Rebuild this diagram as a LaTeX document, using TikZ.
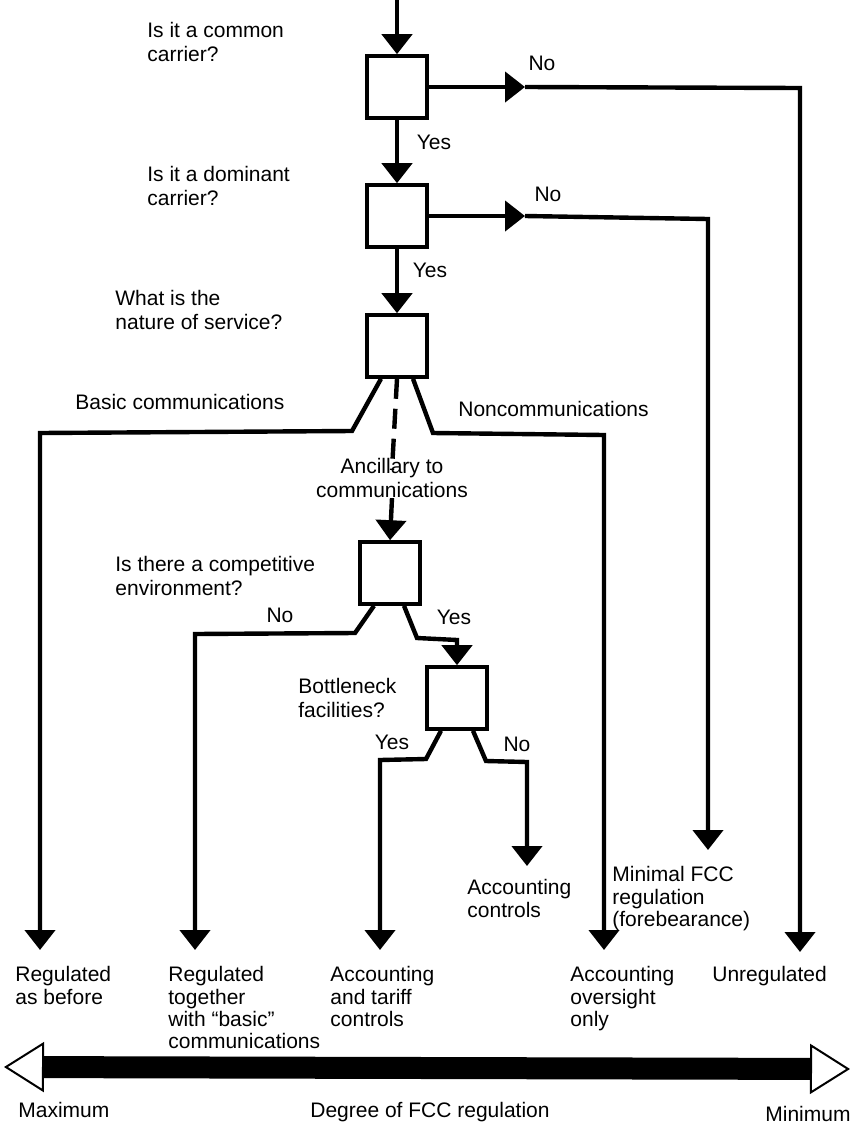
\documentclass[tikz,border=0pt]{standalone}
\usepackage{fontspec}
\setmainfont{Liberation Sans}
\usetikzlibrary{arrows.meta}

\begin{document}
\begin{tikzpicture}[x=0.5pt, y=-0.5pt,
    every node/.style = {font=\fontsize{10.5}{12}\selectfont},
    qbox/.style    = {draw, line width=1.8pt, minimum width=30pt,
                      minimum height=31pt, inner sep=0pt},
    wire/.style    = {line width=2.2pt, line join=miter},
    flow/.style    = {wire, -{Triangle[width=15pt,length=10pt]}},
    ask/.style     = {align=left, inner sep=0pt, anchor=west},
    verdict/.style = {align=left, inner sep=0pt, anchor=north west,
                      font=\fontsize{10.5}{11.2}\selectfont},
    tag/.style     = {inner sep=0pt},
    band/.style    = {line width=11pt,
      {Triangle[width=25pt,length=20pt,fill=white,line width=1pt]}-{Triangle[width=25pt,length=20pt,fill=white,line width=1pt]}},
  ]
  \useasboundingbox (0,0) rectangle (854,1130);

  % decision boxes
  \node[qbox] (common)   at (397,87)  {};
  \node[qbox] (dominant) at (397,216) {};
  \node[qbox] (nature)   at (397,346) {};
  \node[qbox] (compet)   at (390,573) {};
  \node[qbox] (bottle)   at (457,698) {};

  \node[ask] (askcommon)   at (147,42)  {Is it a common\\carrier?};
  \node[ask] (askdominant) at (147,186) {Is it a dominant\\carrier?};
  \node[ask] (asknature)   at (115,310) {What is the\\nature of service?};
  \node[ask] (askcompet)   at (115,576) {Is there a competitive\\environment?};
  \node[ask] (askbottle)   at (298,698) {Bottleneck\\facilities?};

  \node[tag] (yes1) at (434,142) {Yes};
  \node[tag] (no1)  at (542,63)  {No};
  \node[tag] (yes2) at (430,270) {Yes};
  \node[tag] (no2)  at (548,194) {No};
  \node[ask] (basic)   at (75,402)  {Basic communications};
  \node[ask] (noncomm) at (458,409) {Noncommunications};
  \node[tag, align=center] (ancil) at (392,478) {Ancillary to\\communications};
  \node[tag] (no3)  at (280,615) {No};
  \node[tag] (yes3) at (454,617) {Yes};
  \node[tag] (yes4) at (392,742) {Yes};
  \node[tag] (no4)  at (517,744) {No};

  % outcomes
  \node[verdict] (acctctl) at (467,879) {Accounting\\controls};
  \node[verdict] (minimal) at (612,866) {Minimal FCC\\regulation\\(forebearance)};
  \node[verdict] (asbefore) at (15,966)  {Regulated\\as before};
  \node[verdict] (together) at (168,966) {Regulated\\together\\with ``basic''\\communications};
  \node[verdict] (tariff)   at (330,966) {Accounting\\and tariff\\controls};
  \node[verdict] (oversight) at (570,966) {Accounting\\oversight\\only};
  \node[verdict] (unreg)    at (712,966) {Unregulated};

  \coordinate (start) at (397,0);
  \coordinate (noA) at (525,87);
  \coordinate (turnA) at (800,88);
  \coordinate (tipA) at (800,952);
  \coordinate (noB) at (525,216);
  \coordinate (turnB) at (708,219);
  \coordinate (tipB) at (708,850);
  \coordinate (basicbend) at (352,431);
  \coordinate (basicturn) at (40,433);
  \coordinate (basictip) at (40,950);
  \coordinate (nonbend) at (433,433);
  \coordinate (nonturn) at (604,435);
  \coordinate (nontip) at (604,950);
  \coordinate (cnobend) at (355,633);
  \coordinate (cnoturn) at (195,634);
  \coordinate (cnotip) at (195,950);
  \coordinate (cyesbend) at (417,638);
  \coordinate (cyesturn) at (457,640);
  \coordinate (byesbend) at (426,759);
  \coordinate (byesturn) at (380,760);
  \coordinate (byestip) at (380,950);
  \coordinate (bnobend) at (486,761);
  \coordinate (bnoturn) at (527,762);
  \coordinate (bnotip) at (527,866);

  \draw[flow] (start) -- (common.north);
  \draw[flow] (common.south) -- (dominant.north);
  \draw[flow] (dominant.south) -- (nature.north);
  \draw[flow] (common.east) -- (noA);
  \draw[flow] (noA) -- (turnA) -- (tipA);
  \draw[flow] (dominant.east) -- (noB);
  \draw[flow] (noB) -- (turnB) -- (tipB);

  \draw[flow] ([xshift=-8pt]nature.south) -- (basicbend) -- (basicturn) -- (basictip);
  \draw[wire, dash pattern=on 10pt off 5pt] (nature.south) -- ([yshift=-6pt]ancil.north);
  \draw[flow] ([xshift=8pt]nature.south) -- (nonbend) -- (nonturn) -- (nontip);
  \draw[flow] (ancil.south) -- (compet.north);

  \draw[flow] ([xshift=-8pt]compet.south) -- (cnobend) -- (cnoturn) -- (cnotip);
  \draw[flow] ([xshift=7pt]compet.south) -- (cyesbend) -- (cyesturn) -- (bottle.north);
  \draw[flow] ([xshift=-8pt]bottle.south) -- (byesbend) -- (byesturn) -- (byestip);
  \draw[flow] ([xshift=8pt]bottle.south) -- (bnobend) -- (bnoturn) -- (bnotip);

  % degree scale
  \coordinate (maxend) at (4,1067);
  \coordinate (minend) at (850,1069);
  \draw[band] (maxend) -- (minend);
  \node[ask] (maxlbl) at (18,1110) {Maximum};
  \node[tag] (degree) at (430,1112) {Degree of FCC regulation};
  \node[ask] (minlbl) at (765,1114) {Minimum};
\end{tikzpicture}
\end{document}
